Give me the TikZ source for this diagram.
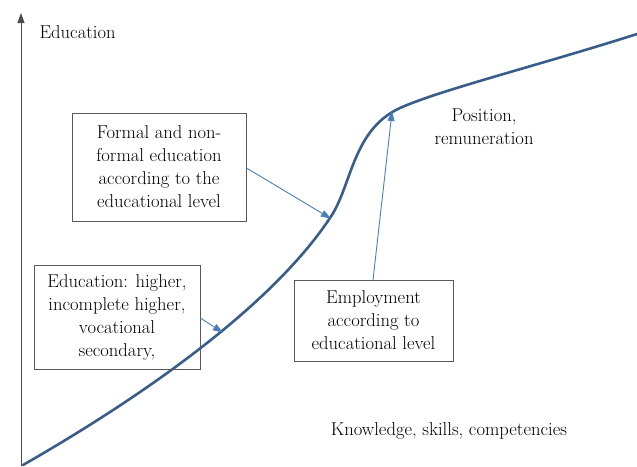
\documentclass[tikz,border=0pt]{standalone}
\usetikzlibrary{arrows.meta}
\definecolor{curveblue}{RGB}{56,93,138}
\definecolor{arrowblue}{RGB}{74,126,187}
\tikzset{
  box/.style={draw=black!65, line width=0.8pt, align=center, inner sep=2pt, text=black},
  label/.style={align=center, text=black},
  pointer/.style={draw=arrowblue, line width=0.9pt, -{Triangle[length=10pt,width=7pt]}, shorten >=-1pt}
}
\begin{document}
\begin{tikzpicture}[x=1pt, y=-1pt, font=\fontsize{18.6}{23}\selectfont]
                \useasboundingbox (0,0) rectangle (637,466);
                % axis
                \coordinate (origin) at (21,466);
                \coordinate (top) at (21,13);
                \draw [black!70, line width=0.9pt, -{Triangle[length=10pt,width=7pt]}] (origin) -- (top);
                \node (educ) at (36,32) [label, anchor=west] {Education};
                \node (know) at (449,431) [label] {Knowledge, skills, competencies};
                \node (position) at (484,127) [label] {Position,\\remuneration};

                % the curve
                \coordinate (start) at (23,465);
                \coordinate (p2) at (330,218);
                \coordinate (bend) at (400,108);
                \coordinate (end) at (637,34);
                \draw [curveblue, line width=2.6pt, line cap=round]
                  (start) .. controls (140,398) and (270,308) .. (p2)
                  .. controls (352,186) and (352,130) .. (bend)
                  .. controls (440,90) and (540,65) .. (end);
                \coordinate (p1) at (222,332);
                \coordinate (p3) at (392,112);

                % boxes
                \node (school) at (117,317) [box, minimum width=166pt, minimum height=104pt] {Education: higher,\\incomplete higher,\\vocational\\secondary,};
                \node (formal) at (159,167) [box, minimum width=174pt, minimum height=108pt] {Formal and non-\\formal education\\according to the\\educational level};
                \node (job) at (373.5,320.5) [box, minimum width=159pt, minimum height=81pt] {Employment\\according to\\educational level};

                \draw [pointer] (school.east |- 0,318) -- (p1);
                \draw [pointer] (formal.east |- 0,168) -- (p2);
                \draw [pointer] (373,280) -- (p3);
            \end{tikzpicture}
\end{document}
